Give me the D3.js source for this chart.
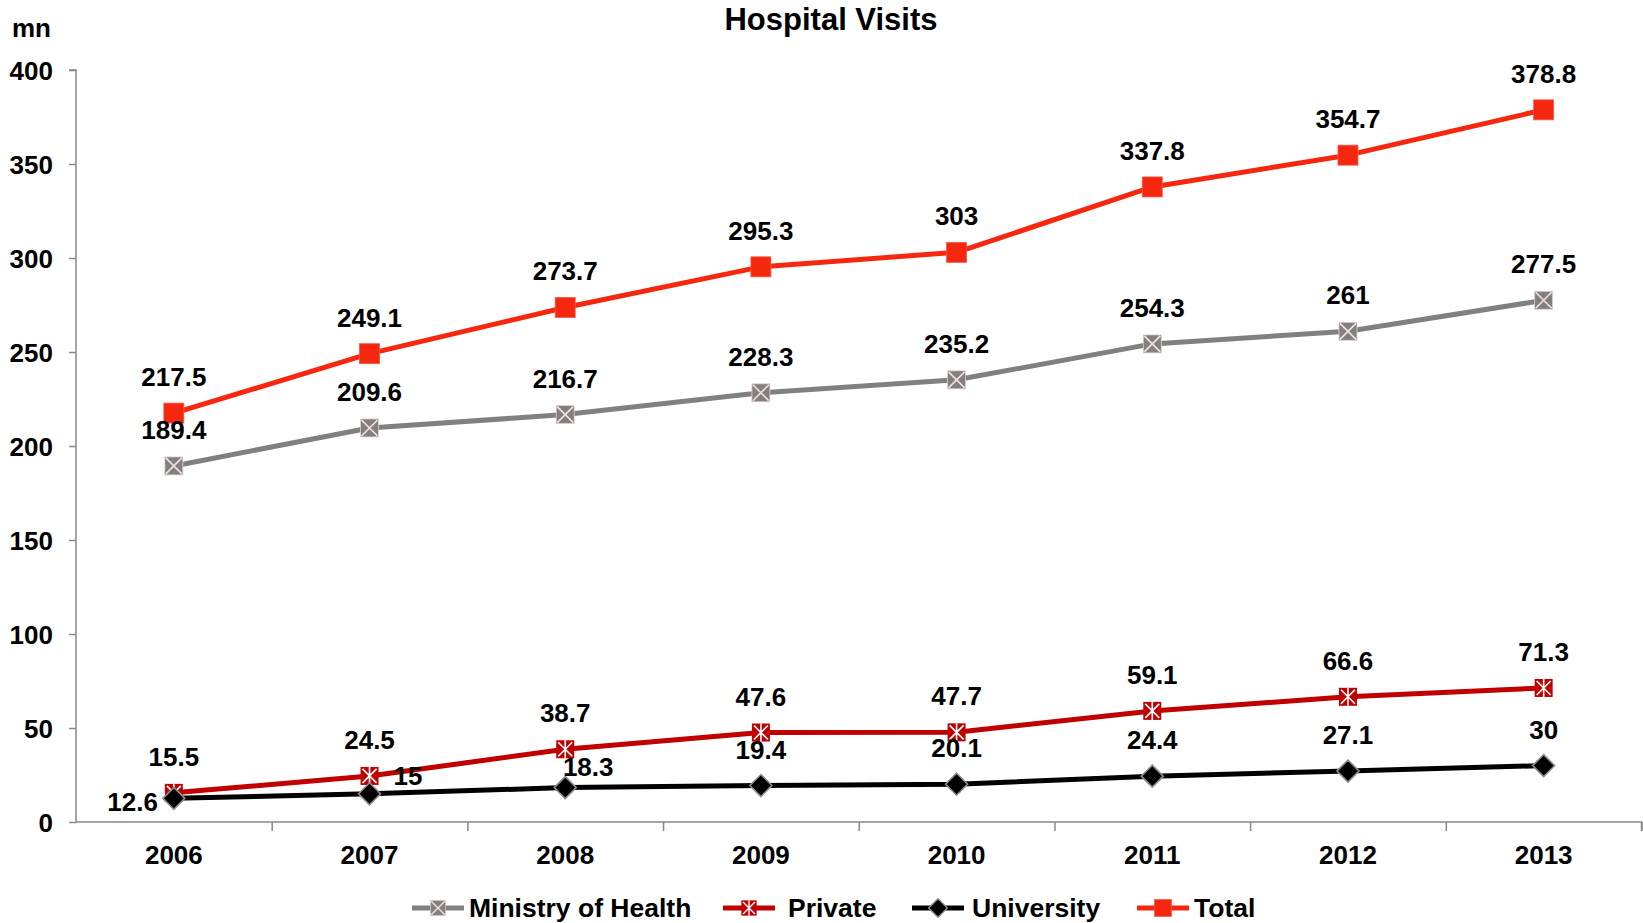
<!DOCTYPE html>
<html>
<head>
<meta charset="utf-8">
<script src="https://cdn.jsdelivr.net/npm/d3@7/dist/d3.min.js"></script>
<style>
  body { margin: 0; background: #fff; }
  text { font-family: "Liberation Sans", Arial, sans-serif; font-weight: bold; fill: #000; }
</style>
</head>
<body>
<div id="vis"></div>
<script>
// DATA
const years = ["2006", "2007", "2008", "2009", "2010", "2011", "2012", "2013"];
const ministryOfHealth = [189.4, 209.6, 216.7, 228.3, 235.2, 254.3, 261, 277.5];
const privateSector = [15.5, 24.5, 38.7, 47.6, 47.7, 59.1, 66.6, 71.3];
const university = [12.6, 15, 18.3, 19.4, 20.1, 24.4, 27.1, 30];
const total = [217.5, 249.1, 273.7, 295.3, 303, 337.8, 354.7, 378.8];
const yTicks = [0, 50, 100, 150, 200, 250, 300, 350, 400];

// label placement for University series (others sit above the point)
const uniLabelPos = ["left", "right", "aboveRight", "above", "above", "above", "above", "above"];

const width = 1643, height = 923;
const margin = { left: 76, right: 1.5, top: 70, bottom: 101 };

const svg = d3.select("#vis").append("svg")
  .attr("width", width)
  .attr("height", height);

// SCALES
const x = d3.scaleBand()
  .domain(years)
  .range([margin.left, width - margin.right])
  .paddingInner(0).paddingOuter(0);

const y = d3.scaleLinear()
  .domain([0, 400])
  .range([height - margin.bottom, margin.top]);

const cx = d => x(d) + x.bandwidth() / 2;

// AXES
const yAxis = svg.append("g")
  .attr("transform", `translate(${margin.left},0)`)
  .call(d3.axisLeft(y).tickValues(yTicks).tickSize(7).tickPadding(16));
yAxis.selectAll("path, line").attr("stroke", "#888").attr("stroke-width", 1.5);
yAxis.selectAll("text").style("font-size", "26px").attr("dy", "0.35em");
yAxis.select(".domain").attr("d", `M-7,${y(400)}H0V${y(0)}`);

const xEdges = d3.scaleLinear().domain([0, years.length]).range(x.range());
const xAxis = svg.append("g")
  .attr("transform", `translate(0,${y(0)})`)
  .call(d3.axisBottom(xEdges).tickValues(d3.range(1, years.length + 1)).tickSize(9).tickFormat(""));
xAxis.selectAll("path, line").attr("stroke", "#888").attr("stroke-width", 1.5);
xAxis.select(".domain").attr("d", `M${x.range()[0]},0H${x.range()[1]}V9`);

svg.append("g").selectAll("text")
  .data(years)
  .join("text")
  .attr("x", d => cx(d))
  .attr("y", y(0) + 42)
  .attr("text-anchor", "middle")
  .style("font-size", "26px")
  .text(d => d);

// TITLES
svg.append("text")
  .attr("x", 831).attr("y", 30)
  .attr("text-anchor", "middle")
  .style("font-size", "31px")
  .text("Hospital Visits");

svg.append("text")
  .attr("x", 12).attr("y", 37)
  .style("font-size", "26px")
  .text("mn");

// MARKERS
function drawMarker(g, type) {
  if (type === "moh") {
    g.append("rect").attr("x", -9).attr("y", -9).attr("width", 18).attr("height", 18)
      .attr("fill", "#808080").attr("stroke", "#E8D0D0").attr("stroke-width", 0.8);
    g.append("path").attr("d", "M-8,-8L8,8M8,-8L-8,8")
      .attr("stroke", "#F6E0DE").attr("stroke-width", 1.6);
  } else if (type === "private") {
    g.append("rect").attr("x", -9).attr("y", -9).attr("width", 18).attr("height", 18)
      .attr("fill", "#C00000");
    g.append("path").attr("d", "M-7,-7L7,7M7,-7L-7,7M0,-9V9")
      .attr("stroke", "#fff").attr("stroke-width", 1.6);
  } else if (type === "uni") {
    g.append("path").attr("d", "M0,-11L11,0L0,11L-11,0Z")
      .attr("fill", "#000").attr("stroke", "#8c8c8c").attr("stroke-width", 1.6);
  } else if (type === "total") {
    g.append("rect").attr("x", -10).attr("y", -10).attr("width", 20).attr("height", 20)
      .attr("fill", "#F5280F").attr("stroke", "#F65A48").attr("stroke-width", 0.8);
  }
}

const series = [
  { key: "moh", name: "Ministry of Health", values: ministryOfHealth, color: "#808080" },
  { key: "private", name: "Private", values: privateSector, color: "#C00000" },
  { key: "uni", name: "University", values: university, color: "#000000" },
  { key: "total", name: "Total", values: total, color: "#F5280F" }
];

const line = d3.line()
  .x((d, i) => cx(years[i]))
  .y(d => y(d));

// DRAW
series.forEach(s => {
  const g = svg.append("g").attr("class", "series-" + s.key);
  g.append("path")
    .datum(s.values)
    .attr("fill", "none")
    .attr("stroke", s.color)
    .attr("stroke-width", 5)
    .attr("stroke-linejoin", "round")
    .attr("d", line);

  s.values.forEach((v, i) => {
    const m = g.append("g").attr("transform", `translate(${cx(years[i])},${y(v)})`);
    drawMarker(m, s.key);
  });
});

// DATA LABELS (drawn last so they sit on top)
series.forEach(s => {
  svg.append("g").selectAll("text")
    .data(s.values)
    .join("text")
    .each(function (v, i) {
      const t = d3.select(this);
      const px = cx(years[i]), py = y(v);
      let pos = s.key === "uni" ? uniLabelPos[i] : "above";
      if (pos === "left") {
        t.attr("x", px - 16).attr("y", py + 13).attr("text-anchor", "end");
      } else if (pos === "right") {
        t.attr("x", px + 24).attr("y", py - 9).attr("text-anchor", "start");
      } else if (pos === "aboveRight") {
        t.attr("x", px + 23).attr("y", py - 12).attr("text-anchor", "middle");
      } else {
        t.attr("x", px).attr("y", py - 27).attr("text-anchor", "middle");
      }
    })
    .style("font-size", "26px")
    .text(v => v);
});

// LEGEND
const legendItems = [
  { x: 412, textX: 469 },
  { x: 723, textX: 788 },
  { x: 912, textX: 972 },
  { x: 1137, textX: 1194 }
];
const legend = svg.append("g").attr("class", "legend");
series.forEach((s, i) => {
  const li = legendItems[i];
  const g = legend.append("g");
  g.append("line")
    .attr("x1", li.x).attr("x2", li.x + 52)
    .attr("y1", 908).attr("y2", 908)
    .attr("stroke", s.color).attr("stroke-width", 5);
  const m = g.append("g").attr("transform", `translate(${li.x + 26},908) scale(0.85)`);
  drawMarker(m, s.key);
  g.append("text")
    .attr("x", li.textX).attr("y", 917)
    .style("font-size", "26.5px")
    .text(s.name);
});
</script>
</body>
</html>
